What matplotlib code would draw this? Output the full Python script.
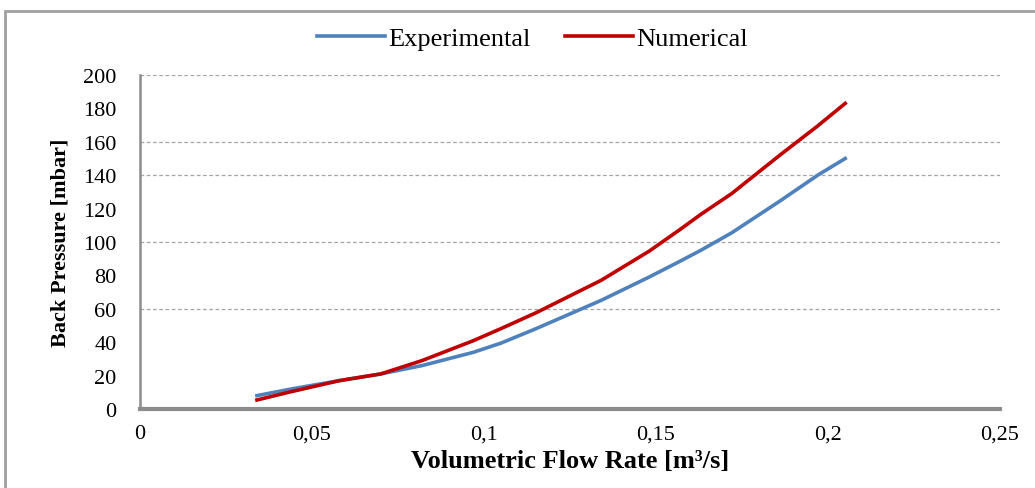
import numpy as np
import matplotlib.pyplot as plt
from matplotlib.patches import Rectangle

# flow rate [m3/s] and back pressure [mbar]
flow = [0.034, 0.044, 0.058, 0.070, 0.082, 0.097, 0.105, 0.115,
        0.134, 0.148, 0.157, 0.163, 0.172, 0.186, 0.197, 0.205]
experimental = [8, 12, 17, 21, 26, 34, 39.5, 48,
                65, 79, 88.5, 95, 105.5, 124.5, 140, 150]
numerical = [5.4, 10.4, 17, 21, 29, 41, 48.2, 57.5,
             77, 94.5, 107.5, 116.5, 129, 152, 169.5, 183]

x_ticks = [0, 0.05, 0.1, 0.15, 0.2, 0.25]
x_labels = ["0", "0,05", "0,1", "0,15", "0,2", "0,25"]
y_ticks = list(range(0, 201, 20))
grid_levels = [60, 100, 140, 160, 200]  # only these show as dashed in the picture

plt.rcParams['font.family'] = ['Liberation Serif', 'DejaVu Serif']

fig = plt.figure(figsize=(10.35, 4.89), dpi=100)
ax = fig.add_axes([140/1035, 1 - 410/489, 860/1035, 334/489])

# outer frame of the original chart area
fig.patches.append(Rectangle((5/1035, -0.05), 1.2, 1 - 12/489 + 0.05,
                             transform=fig.transFigure, fill=False,
                             edgecolor="#a0a0a0", linewidth=2))

for g in grid_levels:
    ax.axhline(g, color="#a6a6a6", linestyle=(0, (3, 2)), linewidth=0.9, zorder=1)

ax.plot(flow, experimental, color="#4f81bd", linewidth=2.6, label="Experimental",
        zorder=3, solid_joinstyle="round")
ax.plot(flow, numerical, color="#c00000", linewidth=2.6, label="Numerical",
        zorder=3, solid_joinstyle="round")

ax.set_xlim(0, 0.25)
ax.set_ylim(0, 200)
ax.set_xticks(x_ticks)
ax.set_xticklabels(x_labels)
ax.set_yticks(y_ticks)
ax.tick_params(length=0, labelsize=16, colors="black")
ax.tick_params(axis="x", pad=11)
ax.tick_params(axis="y", pad=17)

for s in ["top", "right"]:
    ax.spines[s].set_visible(False)
ax.spines["left"].set_color("#8c8c8c")
ax.spines["left"].set_linewidth(1.8)
ax.spines["bottom"].set_color("#8c8c8c")
ax.spines["bottom"].set_linewidth(3)

ax.set_xlabel("Volumetric Flow Rate [m³/s]", fontsize=19, fontweight="bold", labelpad=4)
ax.set_ylabel("Back Pressure [mbar]", fontsize=16, fontweight="bold", labelpad=9)

fig.legend(loc="center", bbox_to_anchor=(532/1035, 1 - 39/489), ncol=2, frameon=False,
           fontsize=19, handlelength=2.6, handletextpad=0.1, columnspacing=1.3)

fig.savefig("out.png", dpi=100)
